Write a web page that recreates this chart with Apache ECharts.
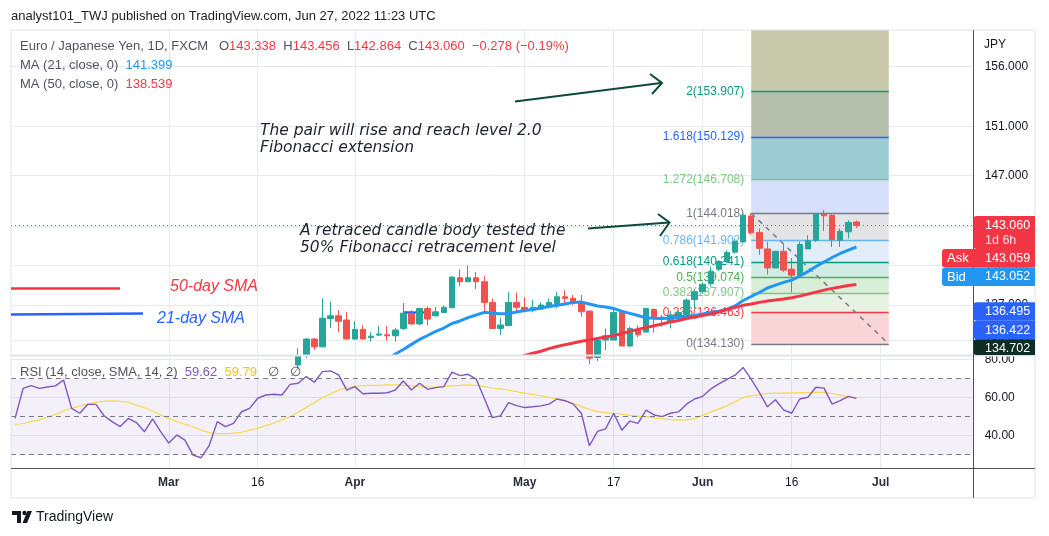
<!DOCTYPE html>
<html>
<head>
<meta charset="utf-8">
<title>EUR/JPY 1D</title>
<script src="https://cdn.jsdelivr.net/npm/echarts@6/dist/echarts.min.js"></script>
<style>
  html, body { margin: 0; padding: 0; background: #fff; }
  #chart { width: 1049px; height: 536px; }
</style>
</head>
<body>
<div id="chart"></div>
<script>
// ==================== 数据 ====================

// 交易日（只含周一到周五），从 2022-02-02 起
const firstDay = '2022-02-02';
const dayCount = 119;

// 横轴标签：类目序号 -> 文字
const tickIndex = [19, 30, 42, 63, 74, 85, 96, 107];
const tickText = ['Mar', '16', 'Apr', 'May', '17', 'Jun', '16', 'Jul'];

// 主图价格轴（对数）
const priceMin = 133.40;
const priceMax = 159.12;
const priceTicks = [134.4, 137, 140, 143, 147, 151, 156];

// K线 [开, 收, 低, 高]，从第 35 根开始（更早的在画面下方）
const candleStart = 35;
const ohlc = [
  [132.60, 133.30, 132.40, 133.82], [133.30, 134.49, 133.10, 134.55], [134.49, 133.92, 133.69, 134.58],
  [133.92, 136.02, 133.90, 137.50], [136.00, 136.20, 135.30, 137.25], [136.20, 135.80, 135.00, 136.63],
  [135.89, 134.49, 134.45, 136.50], [134.49, 135.20, 134.45, 135.80], [135.20, 134.50, 134.45, 135.50],
  [134.60, 134.70, 134.30, 135.00], [134.78, 134.86, 134.70, 135.45], [134.80, 134.73, 134.37, 135.45],
  [134.73, 135.15, 134.30, 135.30], [135.27, 136.40, 135.15, 137.15], [136.35, 135.60, 135.52, 136.63],
  [135.60, 136.75, 135.50, 136.80], [136.75, 135.96, 135.50, 136.90], [136.20, 136.50, 136.15, 136.85],
  [136.45, 136.83, 136.40, 136.97], [136.80, 139.10, 136.80, 139.17], [139.05, 138.75, 138.40, 139.70],
  [138.75, 139.05, 138.75, 140.00], [139.05, 138.75, 138.20, 139.50], [138.75, 137.20, 136.45, 139.20],
  [137.20, 135.27, 135.27, 137.50], [135.27, 135.52, 134.78, 136.06], [135.47, 137.20, 135.47, 137.95],
  [137.20, 136.83, 136.50, 137.95], [136.83, 136.63, 136.45, 137.60], [136.63, 136.83, 136.45, 137.37],
  [136.70, 137.00, 136.63, 137.20], [136.88, 137.20, 136.75, 137.50], [137.12, 137.62, 136.75, 138.00],
  [137.62, 137.50, 137.12, 138.12], [137.50, 137.24, 137.00, 137.75], [137.24, 136.50, 136.13, 137.75],
  [136.55, 133.10, 132.65, 136.60], [133.15, 134.42, 132.90, 134.50], [134.42, 134.73, 133.69, 135.27],
  [134.42, 136.45, 134.42, 136.75], [136.45, 133.98, 133.98, 136.60], [133.98, 135.27, 133.92, 135.40],
  [135.20, 134.80, 134.62, 135.50], [135.00, 136.75, 135.00, 136.75], [136.67, 136.05, 134.96, 136.75],
  [136.02, 136.10, 135.40, 136.26], [135.80, 136.26, 135.27, 136.55], [136.13, 136.45, 136.13, 136.55],
  [136.30, 137.37, 136.26, 137.50], [137.42, 138.00, 136.75, 138.20], [138.00, 138.55, 137.85, 138.70],
  [138.62, 139.55, 138.37, 139.90], [139.70, 140.28, 139.55, 140.40], [140.27, 140.98, 140.20, 141.15],
  [141.00, 141.84, 140.89, 142.05], [141.79, 143.87, 141.79, 144.00], [143.80, 142.50, 142.35, 144.02],
  [142.52, 141.30, 140.80, 142.83], [141.25, 139.80, 139.30, 141.80], [139.80, 141.07, 139.78, 141.10],
  [141.07, 139.63, 139.50, 141.60], [139.70, 139.25, 137.95, 140.55], [139.25, 141.59, 139.20, 141.80],
  [141.25, 141.87, 141.25, 142.30], [141.92, 144.00, 141.78, 144.02], [144.00, 143.82, 142.62, 144.26],
  [143.86, 141.97, 141.40, 144.00], [141.92, 142.62, 141.40, 142.83], [142.57, 143.30, 142.05, 143.47],
  [143.338, 143.060, 142.864, 143.456]
];

// MA(21) 从第 44 根开始
const ma21Start = 44;
const ma21 = [
  132.20, 132.60, 133.00, 133.40, 133.73, 134.10, 134.46, 134.75, 135.05, 135.30,
  135.63, 135.82, 136.07, 136.26, 136.46, 136.40, 136.36, 136.38, 136.48, 136.60,
  136.67, 136.78, 136.90, 136.99, 137.08, 137.20, 137.22, 137.08, 136.93, 136.85,
  136.74, 136.55, 136.38, 136.22, 136.05, 136.02, 136.01, 136.03, 136.07, 136.15,
  136.22, 136.33, 136.44, 136.55, 136.70, 136.93, 137.34, 137.64, 137.94, 138.28,
  138.50, 138.70, 138.87, 139.18, 139.52, 139.90, 140.25, 140.59, 140.90, 141.15,
  141.399
];

// MA(50) 从第 62 根开始
const ma50Start = 62;
const ma50 = [
  133.00, 133.30, 133.46, 133.60, 133.79, 133.94, 134.08, 134.20, 134.33, 134.42,
  134.54, 134.64, 134.74, 134.90, 135.05, 135.20, 135.34, 135.47, 135.60, 135.75,
  135.86, 136.00, 136.12, 136.22, 136.33, 136.48, 136.67, 136.83, 136.98, 137.08,
  137.20, 137.30, 137.37, 137.45, 137.55, 137.67, 137.82, 137.97, 138.12, 138.25,
  138.35, 138.47, 138.539
];

// RSI(14) 与其 SMA(14)，从第 0 根开始
const rsi = [
  49.1, 64.9, 66.3, 64.9, 65.6, 66.2, 69.3, 54.4, 51.8, 56.5,
  56.5, 50.5, 47.4, 44.8, 49.1, 46.9, 42.1, 48.8, 42.1, 36.1,
  40.4, 37.7, 29.8, 28.4, 34.8, 47.4, 44.8, 46.5, 52.6, 54.4,
  59.7, 61.4, 61.8, 61.4, 67.0, 67.6, 71.1, 68.1, 73.7, 74.1,
  72.0, 64.0, 65.8, 62.1, 62.3, 62.3, 62.6, 64.0, 68.8, 64.0,
  67.6, 64.4, 65.3, 65.8, 73.4, 71.6, 72.3, 69.8, 59.7, 49.5,
  50.4, 57.4, 55.8, 54.8, 55.2, 55.7, 56.6, 59.3, 58.4, 56.6,
  51.8, 34.7, 42.3, 43.6, 51.8, 42.9, 47.7, 46.5, 53.4, 50.9,
  50.0, 51.8, 52.5, 56.6, 59.3, 60.7, 64.6, 67.3, 69.6, 71.8,
  75.9, 69.6, 62.8, 55.2, 58.9, 53.6, 51.8, 59.3, 60.2, 65.5,
  65.0, 56.6, 58.4, 60.7, 59.62
];
const rsiSma = [
  45.9, 46.4, 47.4, 48.3, 49.7, 51.2, 53.0, 54.4, 55.6, 56.6,
  57.6, 58.1, 58.3, 58.1, 57.6, 56.1, 54.7, 53.0, 50.9, 49.1,
  47.4, 46.0, 44.6, 43.0, 41.6, 41.1, 41.1, 41.3, 41.8, 42.9,
  43.9, 45.3, 46.7, 48.3, 50.0, 52.3, 54.9, 57.4, 60.0, 62.1,
  63.9, 65.1, 66.0, 66.3, 66.5, 66.5, 66.7, 66.7, 66.5, 66.2,
  65.8, 65.5, 65.5, 65.8, 66.2, 66.5, 66.7, 66.5, 65.8, 65.1,
  64.6, 63.9, 63.2, 62.4, 61.7, 61.0, 60.2, 59.3, 58.3, 57.0,
  55.3, 53.8, 52.7, 52.1, 51.8, 51.3, 50.7, 50.3, 50.0, 49.4,
  48.9, 48.5, 48.2, 48.3, 49.0, 50.7, 52.5, 54.0, 55.8, 57.9,
  60.0, 61.1, 61.6, 62.2, 62.4, 62.4, 62.5, 62.5, 62.7, 62.8,
  62.8, 62.2, 61.3, 60.4, 59.79
];
const rsiMin = 23;
const rsiMax = 81.4;
const rsiTicks = [40, 60, 80];
const rsiBands = [70, 50, 30];

// 斐波那契回撤（锚点：第 91 根 ~ 第 108 根）
const fibFrom = 91;
const fibTo = 108;
const fibRatio = ['0', '0.236', '0.382', '0.5', '0.618', '0.786', '1', '1.272', '1.618', '2', '2.618'];
const fibPrice = [134.130, 136.463, 137.907, 139.074, 140.241, 141.902, 144.018, 146.708, 150.129, 153.907, 160.017];
const fibLine = ['#787b86', '#f23645', '#81c784', '#4caf50', '#089981', '#64b5f6', '#787b86', '#81c784', '#2962ff', '#089981', '#2962ff'];
const fibFill = ['#fad5d6', '#e6f3e2', '#d9eed9', '#d1ebe5', '#e1eefa', '#e4e4e6', '#d5defa', '#9dcbd3', '#b6bfac', '#c8c9aa'];

// 画线：现价虚线、蓝色水平线段
const lastPrice = 143.060;
const drawnLevel = 136.45;
const drawnFrom = 48;
const drawnTo = 51;

// 右侧价格标签
const badgePrice = [143.060, 143.059, 143.052, 136.495, 136.422, 134.702];
const badgeTag = ['', 'Ask', 'Bid', '', '', ''];
const badgeColor = ['#f23645', '#f23645', '#2196f3', '#2962ff', '#2962ff', '#0d2e25'];

// ==================== 工具函数 ====================

const FONT = '"Liberation Sans", "Noto Sans", sans-serif';
const NOTE_FONT = '"DejaVu Sans", "Liberation Sans", sans-serif';
const GRID_COLOR = '#e6e9ef';

function buildDays(start, n) {
  const out = [];
  const d = new Date(start + 'T00:00:00Z');
  while (out.length < n) {
    const wd = d.getUTCDay();
    if (wd !== 0 && wd !== 6) out.push(d.toISOString().slice(0, 10));
    d.setUTCDate(d.getUTCDate() + 1);
  }
  return out;
}

// 按起始序号补齐到整条类目轴
function pad(start, arr, empty) {
  const out = [];
  for (let i = 0; i < dayCount; i++) {
    const k = i - start;
    out.push(k >= 0 && k < arr.length ? arr[k] : empty);
  }
  return out;
}

const days = buildDays(firstDay, dayCount);
const isTick = (idx) => tickIndex.indexOf(idx) >= 0;

// ==================== 斐波那契标记 ====================

const fibAreas = [];
for (let k = 0; k < fibFill.length; k++) {
  fibAreas.push([
    { coord: [days[fibFrom], fibPrice[k]], itemStyle: { color: fibFill[k] } },
    { coord: [days[fibTo], Math.min(fibPrice[k + 1], priceMax)] }
  ]);
}

const fibLines = [];
for (let k = 0; k < 10; k++) {
  const labelColor = (fibRatio[k] === '0' || fibRatio[k] === '1') ? '#787b86' : fibLine[k];
  fibLines.push([
    {
      coord: [days[fibFrom], fibPrice[k]],
      lineStyle: { color: fibLine[k], width: 1.3, type: 'solid' },
      label: {
        show: true,
        position: 'start',
        distance: 7,
        padding: [0, 0, 20, 0],
        color: labelColor,
        fontSize: 12,
        fontFamily: FONT,
        formatter: fibRatio[k] + '(' + fibPrice[k].toFixed(3) + ')'
      }
    },
    { coord: [days[fibTo], fibPrice[k]] }
  ]);
}

// 斐波那契对角虚线
fibLines.push([
  { coord: [days[fibFrom], fibPrice[6]], lineStyle: { color: '#787b86', width: 1.5, type: [5, 5] }, label: { show: false } },
  { coord: [days[fibTo], fibPrice[0]] }
]);
// 蓝色水平线段
fibLines.push([
  { coord: [days[drawnFrom], drawnLevel], lineStyle: { color: '#2962ff', width: 2.5, type: 'solid' }, label: { show: false } },
  { coord: [days[drawnTo], drawnLevel] }
]);
// 现价点线
fibLines.push({
  yAxis: lastPrice,
  lineStyle: { color: '#f23645', width: 1, type: [1, 3] },
  label: { show: false }
});

// ==================== 图表 ====================

const chart = echarts.init(document.getElementById('chart'));

const option = {
  animation: false,
  textStyle: { fontFamily: FONT },
  grid: [
    { left: 11, top: 30, width: 962.7, height: 324 },
    { left: 11, top: 357, width: 962.7, height: 111 }
  ],
  xAxis: [
    {
      type: 'category', gridIndex: 0, data: days, boundaryGap: true,
      axisLine: { show: false }, axisTick: { show: false }, axisLabel: { show: false },
      splitLine: { show: true, interval: isTick, alignWithLabel: true, lineStyle: { color: GRID_COLOR } }
    },
    {
      type: 'category', gridIndex: 1, data: days, boundaryGap: true,
      axisLine: { show: false }, axisTick: { show: false },
      axisLabel: {
        interval: isTick,
        margin: 9,
        color: '#131722',
        fontSize: 12,
        formatter: (v, idx) => {
          const t = tickText[tickIndex.indexOf(idx)] || '';
          return /^\d+$/.test(t) ? t : '{m|' + t + '}';
        },
        rich: { m: { fontWeight: 'bold', fontSize: 12, color: '#2a2e39' } }
      },
      splitLine: { show: true, interval: isTick, alignWithLabel: true, lineStyle: { color: GRID_COLOR } }
    }
  ],
  yAxis: [
    {
      type: 'log', gridIndex: 0, position: 'right', min: priceMin, max: priceMax,
      axisLine: { show: false },
      axisTick: { show: false, customValues: priceTicks },
      axisLabel: { customValues: priceTicks, formatter: (v) => v.toFixed(3), margin: 11, color: '#131722', fontSize: 12 },
      splitLine: { show: true, lineStyle: { color: GRID_COLOR } }
    },
    {
      type: 'value', gridIndex: 1, position: 'right', min: rsiMin, max: rsiMax,
      axisLine: { show: false },
      axisTick: { show: false, customValues: rsiTicks },
      axisLabel: { customValues: rsiTicks, formatter: (v) => v.toFixed(2), margin: 11, color: '#131722', fontSize: 12 },
      splitLine: { show: true, lineStyle: { color: GRID_COLOR } }
    }
  ],
  series: [
    {
      name: 'fib', type: 'line', xAxisIndex: 0, yAxisIndex: 0, z: 1,
      data: pad(0, [], '-'), showSymbol: false, silent: true,
      markArea: { silent: true, z: 1, data: fibAreas },
      markLine: { silent: true, z: 1.5, symbol: ['none', 'none'], animation: false, data: fibLines }
    },
    {
      name: 'EURJPY', type: 'candlestick', xAxisIndex: 0, yAxisIndex: 0, z: 3,
      barWidth: 6,
      data: pad(candleStart, ohlc, ['-', '-', '-', '-']),
      itemStyle: { color: '#26a69a', color0: '#ef5350', borderColor: '#26a69a', borderColor0: '#ef5350', borderWidth: 1 }
    },
    {
      name: 'MA21', type: 'line', xAxisIndex: 0, yAxisIndex: 0, z: 4,
      data: pad(ma21Start, ma21, '-'), showSymbol: false,
      lineStyle: { color: '#2196f3', width: 3 }
    },
    {
      name: 'MA50', type: 'line', xAxisIndex: 0, yAxisIndex: 0, z: 4,
      data: pad(ma50Start, ma50, '-'), showSymbol: false,
      lineStyle: { color: '#f23645', width: 3 }
    },
    {
      name: 'RSI', type: 'line', xAxisIndex: 1, yAxisIndex: 1, z: 4,
      data: pad(0, rsi, '-'), showSymbol: false,
      lineStyle: { color: '#7e57c2', width: 1.4 },
      markArea: { silent: true, itemStyle: { color: 'rgba(126,87,194,0.09)' }, data: [[{ yAxis: rsiBands[2] }, { yAxis: rsiBands[0] }]] },
      markLine: {
        silent: true, symbol: ['none', 'none'], label: { show: false },
        lineStyle: { color: '#787b86', width: 1, type: [5, 4] },
        data: rsiBands.map(v => ({ yAxis: v }))
      }
    },
    {
      name: 'RSI SMA', type: 'line', xAxisIndex: 1, yAxisIndex: 1, z: 3,
      data: pad(0, rsiSma, '-'), showSymbol: false,
      lineStyle: { color: '#f7d94c', width: 1.2 }
    }
  ]
};

chart.setOption(option);

// ==================== 注释与界面元素 ====================

const g = [];
const TXT = '#131722';

function text(x, y, str, opt) {
  g.push(Object.assign({
    type: 'text', x: x, y: y, z: 50,
    style: Object.assign({ text: str, fill: TXT, font: '13px ' + FONT, align: 'left', verticalAlign: 'middle' }, opt || {})
  }));
}
function line(x1, y1, x2, y2, stroke, w) {
  g.push({ type: 'line', z: 50, shape: { x1, y1, x2, y2 }, style: { stroke: stroke, lineWidth: w } });
}
function poly(points, stroke, w) {
  g.push({ type: 'polyline', z: 50, shape: { points: points }, style: { stroke: stroke, lineWidth: w, fill: null } });
}

// 外框与分隔线
g.push({ type: 'rect', z: 40, shape: { x: 11, y: 30, width: 1024, height: 468 }, style: { fill: null, stroke: '#e0e3eb', lineWidth: 1 } });
line(11, 355.5, 1035, 355.5, '#e0e3eb', 2);
line(11, 468.5, 1035, 468.5, '#50535e', 1);
line(973.5, 30, 973.5, 498, '#50535e', 1);

// 顶部文字
text(11, 16, 'analyst101_TWJ published on TradingView.com, Jun 27, 2022 11:23 UTC', { font: '13px ' + FONT, fill: '#222' });
text(20, 46, '', {
  text: '{g|Euro / Japanese Yen, 1D, FXCM   O}{r|143.338}{g|  H}{r|143.456}{g|  L}{r|142.864}{g|  C}{r|143.060}{r|  \u22120.278 (\u22120.19%)}',
  rich: { g: { fill: '#50535e', font: '13px ' + FONT }, r: { fill: '#f23645', font: '13px ' + FONT } }
});
text(20, 65, '', {
  text: '{g|MA (21, close, 0)  }{b|141.399}',
  rich: { g: { fill: '#50535e', font: '13px ' + FONT }, b: { fill: '#2196f3', font: '13px ' + FONT } }
});
text(20, 84, '', {
  text: '{g|MA (50, close, 0)  }{r|138.539}',
  rich: { g: { fill: '#50535e', font: '13px ' + FONT }, r: { fill: '#f23645', font: '13px ' + FONT } }
});
text(20, 372, '', {
  text: '{g|RSI (14, close, SMA, 14, 2)  }{p|59.62}{g|  }{y|59.79}{g|   \u2205   \u2205}',
  rich: { g: { fill: '#50535e', font: '13px ' + FONT }, p: { fill: '#7e57c2', font: '13px ' + FONT }, y: { fill: '#f0c419', font: '13px ' + FONT } }
});
text(984, 45, 'JPY', { font: '12px ' + FONT, fill: '#131722' });

// 文字注释
const NOTE = 'italic 15.5px ' + NOTE_FONT;
const ITALIC = 'italic 16px ' + FONT;
text(260, 131, 'The pair will rise and reach level 2.0', { font: NOTE, fill: '#1e222d' });
text(260, 148, 'Fibonacci extension', { font: NOTE, fill: '#1e222d' });
text(300, 231, 'A retraced candle body tested the', { font: NOTE, fill: '#1e222d' });
text(300, 248, '50% Fibonacci retracement level', { font: NOTE, fill: '#1e222d' });
text(170, 287, '50-day SMA', { font: ITALIC, fill: '#f23645' });
text(157, 319, '21-day SMA', { font: ITALIC, fill: '#2962ff' });
line(11, 288.5, 120, 288.5, '#f23645', 2.5);
poly([[11, 314.5], [143, 313.5]], '#2962ff', 2.5);

// 箭头
const ARROW = '#0e4a3c';
poly([[515, 101.5], [661, 83]], ARROW, 2);
poly([[650, 74], [662, 83], [652, 94]], ARROW, 2);
poly([[588, 228.5], [669, 222.5]], ARROW, 2);
poly([[658, 214], [669.5, 222.5], [660, 236]], ARROW, 2);

// 右侧价格标签（按价格定位，重叠时向下推）
let prevBottom = -Infinity;
for (let k = 0; k < badgePrice.length; k++) {
  const py = chart.convertToPixel({ yAxisIndex: 0 }, badgePrice[k]);
  const h = k === 0 ? 33 : 18.5;
  let top = Math.max(py - 9.5, prevBottom);
  let height = Math.min(h, 355 - top);
  prevBottom = top + h;
  const left = badgeTag[k] ? 942 : 973.5;
  g.push({ type: 'rect', z: 60, shape: { x: left, y: top, width: 1035 - left, height: height, r: [3, 0, 0, 3] }, style: { fill: badgeColor[k] } });
  g.push({ type: 'text', z: 61, x: 985, y: top + 9.5, style: { text: badgePrice[k].toFixed(3), fill: '#fff', font: '12.5px ' + FONT, verticalAlign: 'middle' } });
  if (badgeTag[k]) {
    g.push({ type: 'text', z: 61, x: 947, y: top + 9.5, style: { text: badgeTag[k], fill: '#fff', font: '13px ' + FONT, verticalAlign: 'middle' } });
  }
  if (k === 0) {
    g.push({ type: 'text', z: 61, x: 985, y: top + 25, style: { text: '1d 6h', fill: 'rgba(255,255,255,0.85)', font: '12.5px ' + FONT, verticalAlign: 'middle' } });
  }
}

// 底部 TradingView 标志
g.push({ type: 'polygon', z: 50, shape: { points: [[12, 511], [21, 511], [21, 523], [17, 523], [17, 515], [12, 515]] }, style: { fill: '#131722' } });
g.push({ type: 'circle', z: 50, shape: { cx: 24.5, cy: 513, r: 2.2 }, style: { fill: '#131722' } });
g.push({ type: 'polygon', z: 50, shape: { points: [[27.5, 511], [32, 511], [27, 523], [22.5, 523]] }, style: { fill: '#131722' } });
text(36, 517, 'TradingView', { font: '14px ' + FONT, fill: '#131722' });

chart.setOption({ graphic: g });
</script>
</body>
</html>
